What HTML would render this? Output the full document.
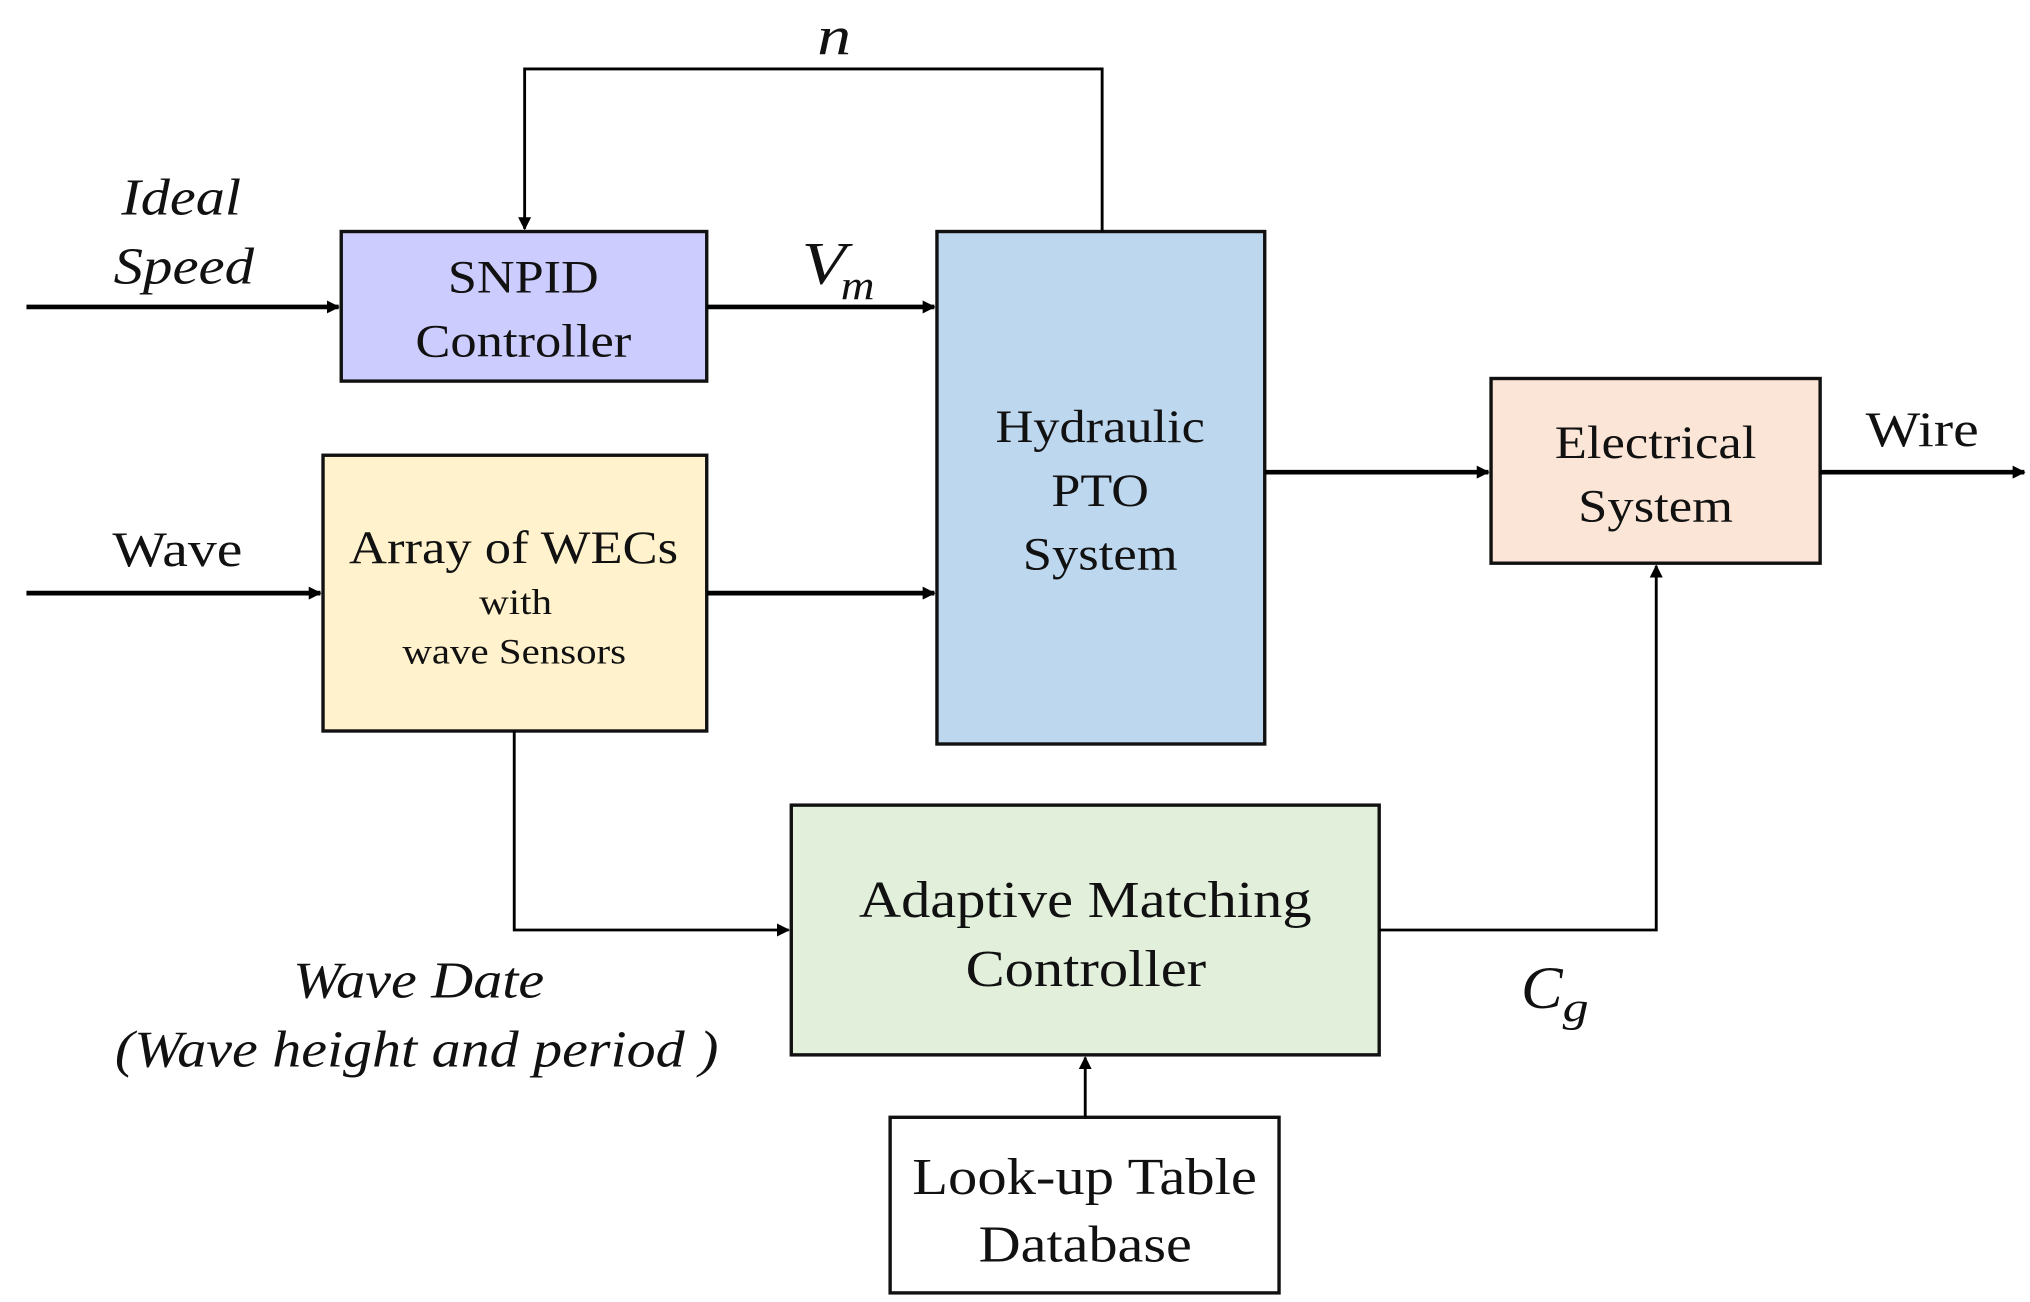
<!DOCTYPE html>
<html><head><meta charset="utf-8"><style>html,body{margin:0;padding:0;background:#fff;}svg{display:block}</style></head>
<body>
<svg width="2030" height="1302" viewBox="0 0 1560 1001" xmlns="http://www.w3.org/2000/svg" font-family="'Liberation Serif', serif">
<defs>
<marker id="a" markerWidth="10" markerHeight="10" refX="9" refY="5" orient="auto" markerUnits="userSpaceOnUse"><path d="M0,0 L10,5 L0,10 z" fill="#000"/></marker>
</defs>
<g stroke="#111" stroke-width="2.6">
<rect x="262" y="178" width="281" height="115" fill="#ccccff"/>
<rect x="720" y="178" width="252" height="394" fill="#bdd7ee"/>
<rect x="248" y="350" width="295" height="212" fill="#fff2cc"/>
<rect x="1146" y="291" width="253" height="142" fill="#fbe5d6"/>
<rect x="608" y="619" width="452" height="192" fill="#e2efda"/>
<rect x="684" y="859" width="299" height="135" fill="#fff"/>
</g>
<g stroke="#000" fill="none">
<g stroke-width="3.6">
<line x1="20" y1="236" x2="260" y2="236" marker-end="url(#a)"/>
<line x1="543" y1="236" x2="718" y2="236" marker-end="url(#a)"/>
<line x1="20" y1="456" x2="246" y2="456" marker-end="url(#a)"/>
<line x1="543" y1="456" x2="718" y2="456" marker-end="url(#a)"/>
<line x1="972" y1="363" x2="1144" y2="363" marker-end="url(#a)"/>
<line x1="1399" y1="363" x2="1556" y2="363" marker-end="url(#a)"/>
</g>
<g stroke-width="2.2">
<polyline points="847,178 847,53 403,53 403,176" marker-end="url(#a)"/>
<polyline points="395,562 395,715 606,715" marker-end="url(#a)"/>
<polyline points="1060,715 1273,715 1273,435" marker-end="url(#a)"/>
<line x1="834" y1="859" x2="834" y2="813" marker-end="url(#a)"/>
</g>
</g>
<g fill="#111" lengthAdjust="spacingAndGlyphs">
<text x="628" y="42" font-size="42" font-style="italic" textLength="26" lengthAdjust="spacingAndGlyphs">n</text>
<text x="93" y="165" font-size="40" font-style="italic" textLength="92" lengthAdjust="spacingAndGlyphs">Ideal</text>
<text x="87" y="218" font-size="40" font-style="italic" textLength="108" lengthAdjust="spacingAndGlyphs">Speed</text>
<text x="344" y="225" font-size="36" textLength="116" lengthAdjust="spacingAndGlyphs">SNPID</text>
<text x="319" y="274" font-size="36" textLength="166" lengthAdjust="spacingAndGlyphs">Controller</text>
<text x="616" y="218" font-size="46" font-style="italic" textLength="34" lengthAdjust="spacingAndGlyphs">V</text>
<text x="646" y="230" font-size="32" font-style="italic" textLength="26" lengthAdjust="spacingAndGlyphs">m</text>
<text x="765" y="340" font-size="36" textLength="161" lengthAdjust="spacingAndGlyphs">Hydraulic</text>
<text x="808" y="389" font-size="36" textLength="75" lengthAdjust="spacingAndGlyphs">PTO</text>
<text x="786" y="438" font-size="36" textLength="119" lengthAdjust="spacingAndGlyphs">System</text>
<text x="86" y="435" font-size="38" textLength="100" lengthAdjust="spacingAndGlyphs">Wave</text>
<text x="268" y="433" font-size="36" textLength="253" lengthAdjust="spacingAndGlyphs">Array of WECs</text>
<text x="368" y="472" font-size="28" textLength="56" lengthAdjust="spacingAndGlyphs">with</text>
<text x="309" y="510" font-size="28" textLength="172" lengthAdjust="spacingAndGlyphs">wave Sensors</text>
<text x="1195" y="352" font-size="36" textLength="155" lengthAdjust="spacingAndGlyphs">Electrical</text>
<text x="1213" y="401" font-size="36" textLength="119" lengthAdjust="spacingAndGlyphs">System</text>
<text x="1434" y="343" font-size="38" textLength="87" lengthAdjust="spacingAndGlyphs">Wire</text>
<text x="660" y="705" font-size="40" textLength="348" lengthAdjust="spacingAndGlyphs">Adaptive Matching</text>
<text x="742" y="758" font-size="40" textLength="185" lengthAdjust="spacingAndGlyphs">Controller</text>
<text x="1169" y="775" font-size="46" font-style="italic" textLength="32" lengthAdjust="spacingAndGlyphs">C</text>
<text x="1201" y="785" font-size="32" font-style="italic" textLength="20" lengthAdjust="spacingAndGlyphs">g</text>
<text x="701" y="918" font-size="40" textLength="265" lengthAdjust="spacingAndGlyphs">Look-up Table</text>
<text x="752" y="970" font-size="40" textLength="164" lengthAdjust="spacingAndGlyphs">Database</text>
<text x="225" y="767" font-size="40" font-style="italic" textLength="193" lengthAdjust="spacingAndGlyphs">Wave Date</text>
<text x="88" y="820" font-size="40" font-style="italic" textLength="464" lengthAdjust="spacingAndGlyphs">(Wave height and period )</text>
</g>
</svg>
</body></html>
